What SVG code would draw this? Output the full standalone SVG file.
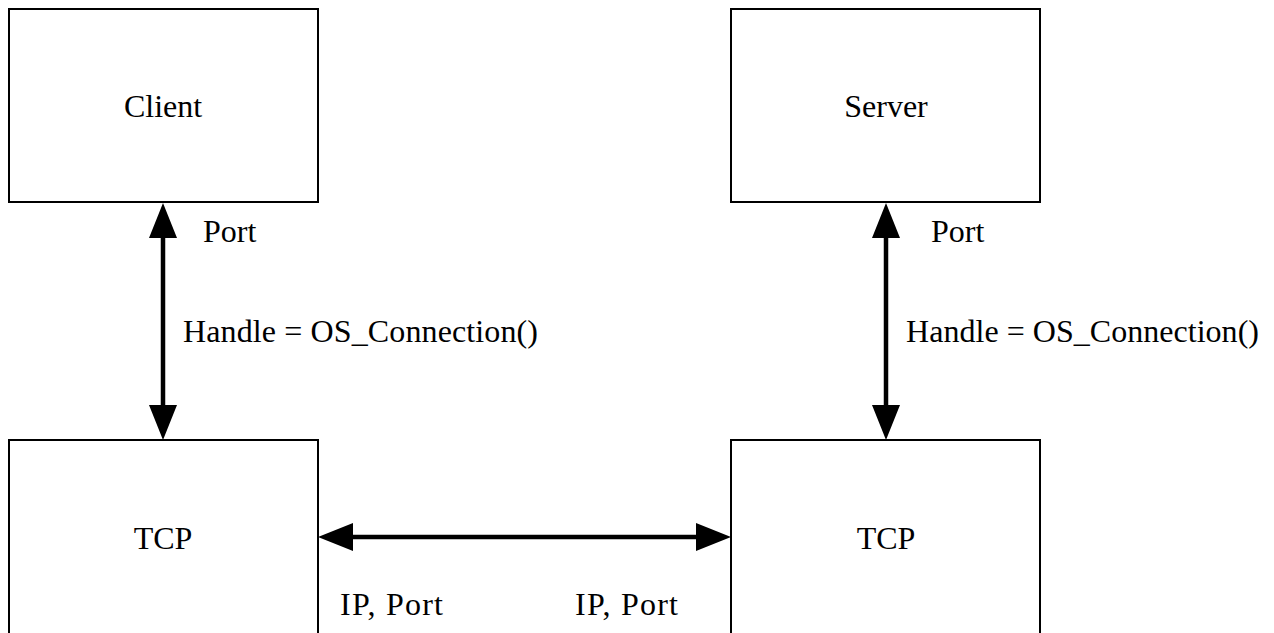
<svg xmlns="http://www.w3.org/2000/svg" width="1274" height="633" viewBox="0 0 1274 633">
  <style>
    .box { fill: #ffffff; stroke: #000000; stroke-width: 2; }
    .lbl { font-family: "Liberation Serif", "Times New Roman", serif; font-size: 32px; fill: #000000; }
    .mid { text-anchor: middle; }
    .conn { stroke: #000000; stroke-width: 4.5; fill: none; marker-start: url(#head); marker-end: url(#head); }
  </style>
  <defs>
    <marker id="head" markerUnits="userSpaceOnUse" viewBox="0 0 35 28" markerWidth="35" markerHeight="28" refX="0" refY="14" orient="auto-start-reverse">
      <path d="M0,0 L35,14 L0,28 Z" fill="#000000"/>
    </marker>
  </defs>
  <rect width="1274" height="633" fill="#ffffff"/>

  <g id="client">
    <rect class="box" x="9" y="9" width="309" height="193"/>
    <text class="lbl mid" x="163" y="117">Client</text>
  </g>
  <g id="server">
    <rect class="box" x="731" y="9" width="309" height="193"/>
    <text class="lbl mid" x="886" y="117">Server</text>
  </g>
  <g id="tcp-client">
    <rect class="box" x="9" y="440" width="309" height="230"/>
    <text class="lbl mid" x="163" y="549">TCP</text>
  </g>
  <g id="tcp-server">
    <rect class="box" x="731" y="440" width="309" height="230"/>
    <text class="lbl mid" x="886" y="549">TCP</text>
  </g>

  <g id="connectors">
    <line class="conn" x1="163" y1="238" x2="163" y2="405"/>
    <line class="conn" x1="886" y1="238" x2="886" y2="405"/>
    <line class="conn" x1="353" y1="537" x2="696" y2="537"/>
    <text class="lbl" x="203" y="242">Port</text>
    <text class="lbl" x="183" y="342" textLength="355" lengthAdjust="spacing">Handle = OS_Connection()</text>
    <text class="lbl" x="931" y="242">Port</text>
    <text class="lbl" x="906" y="342" textLength="353" lengthAdjust="spacing">Handle = OS_Connection()</text>
    <text class="lbl" x="340" y="615" textLength="103" lengthAdjust="spacing">IP, Port</text>
    <text class="lbl" x="575" y="615" textLength="103" lengthAdjust="spacing">IP, Port</text>
  </g>
</svg>
